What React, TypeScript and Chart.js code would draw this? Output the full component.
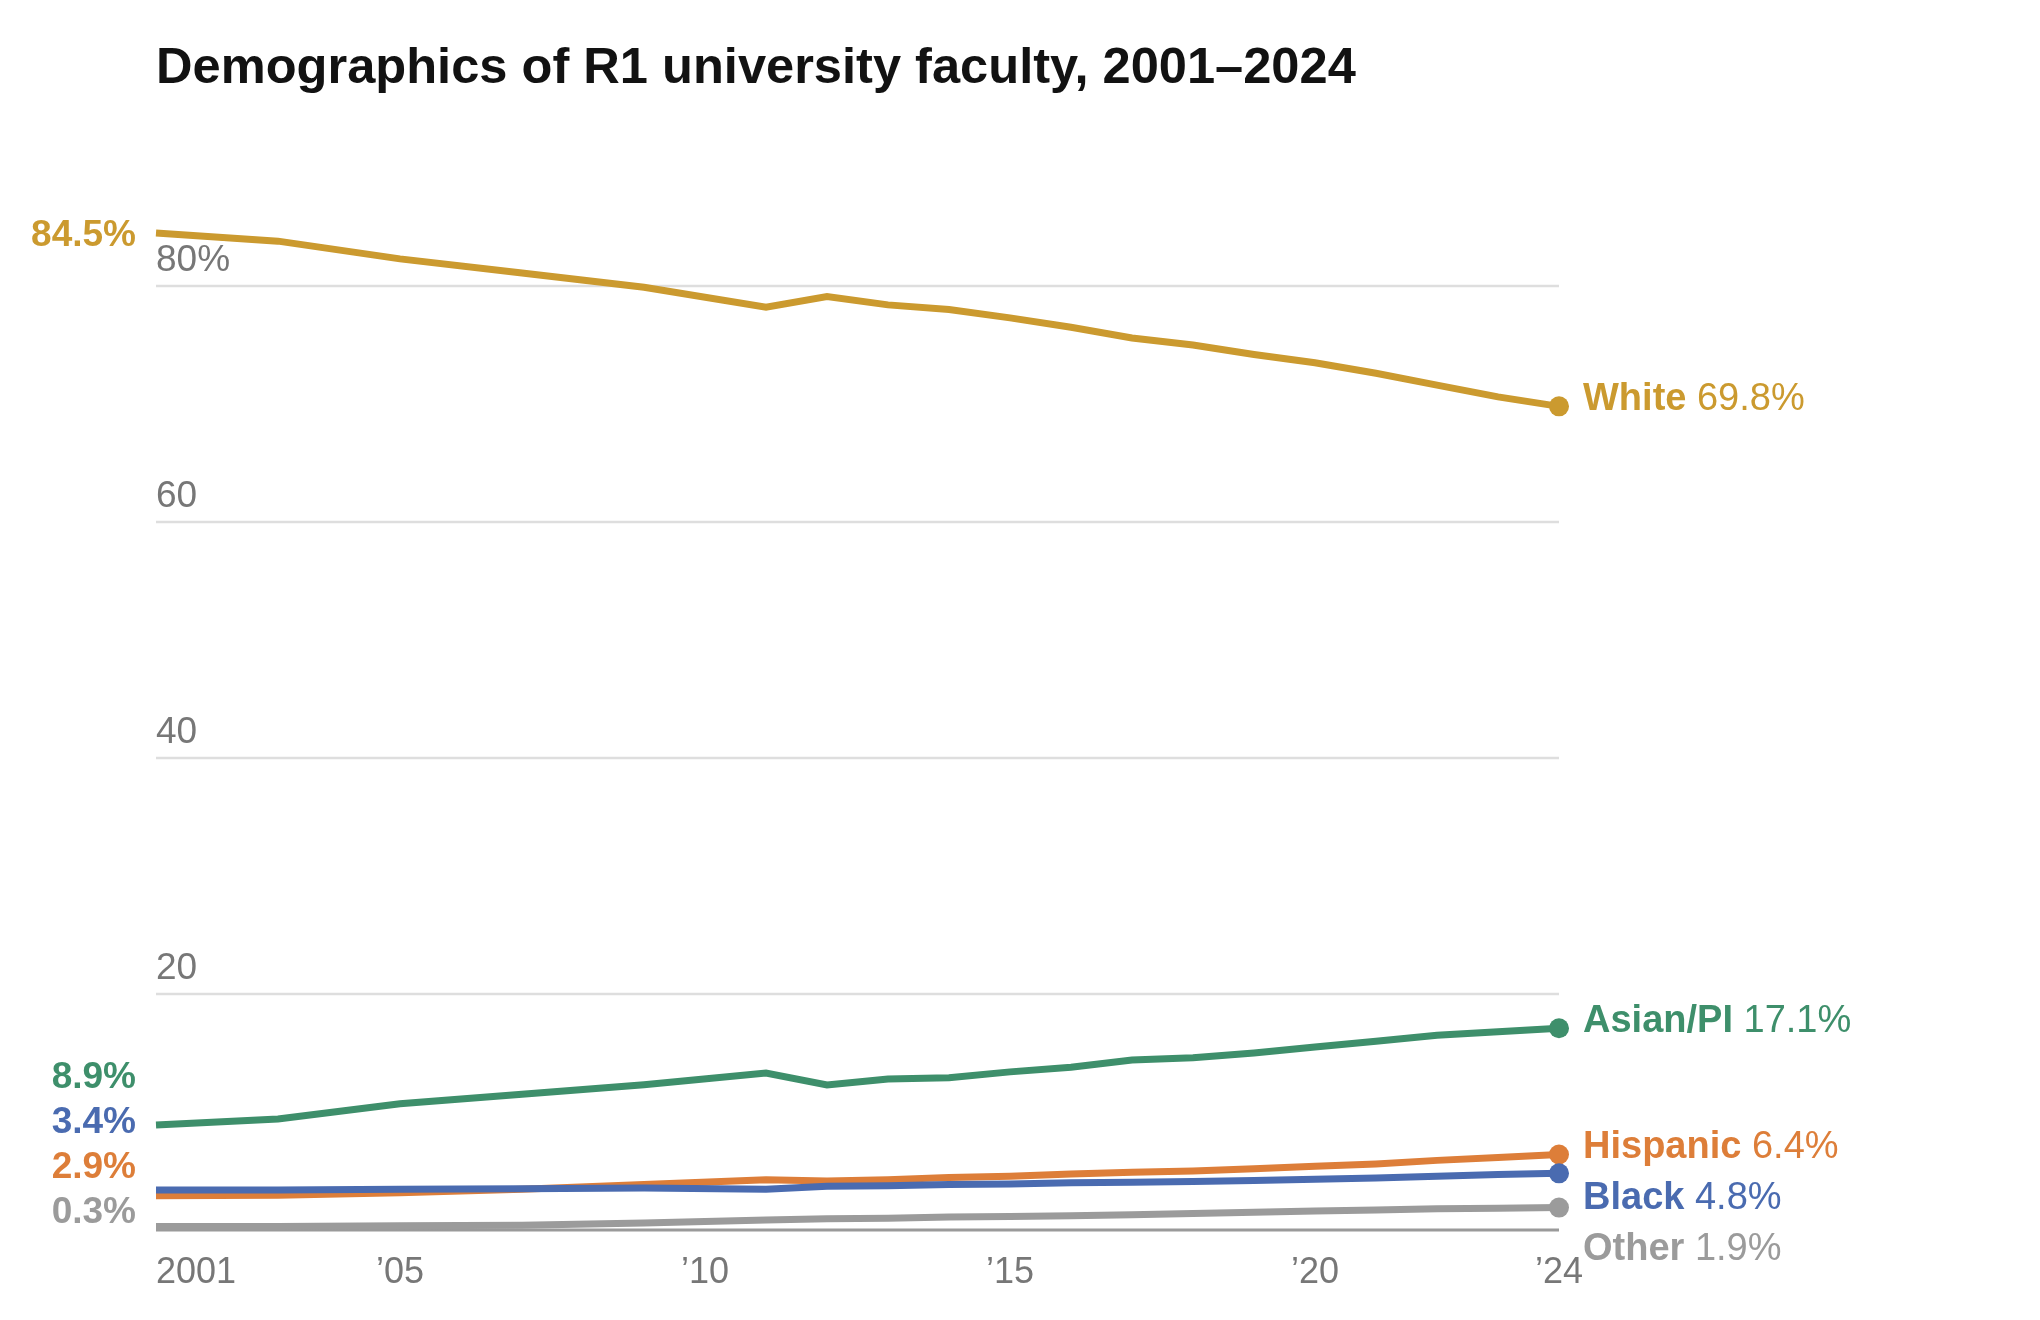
import { useEffect, useRef } from 'react';
import { Chart, registerables } from 'chart.js';

Chart.register(...registerables);

// Survey years (biennial until 2011, then yearly)
const years = [2001, 2003, 2005, 2007, 2009, 2011, 2012, 2013, 2014, 2015, 2016, 2017, 2018, 2019, 2020, 2021, 2022, 2023, 2024];

const whiteShare = [84.5, 83.8, 82.3, 81.1, 79.9, 78.2, 79.1, 78.4, 78.0, 77.3, 76.5, 75.6, 75.0, 74.2, 73.5, 72.6, 71.6, 70.6, 69.8];
const asianShare = [8.9, 9.4, 10.7, 11.5, 12.3, 13.3, 12.3, 12.8, 12.9, 13.4, 13.8, 14.4, 14.6, 15.0, 15.5, 16.0, 16.5, 16.8, 17.1];
const hispanicShare = [2.9, 2.95, 3.15, 3.45, 3.85, 4.25, 4.15, 4.25, 4.45, 4.55, 4.75, 4.9, 5.0, 5.2, 5.4, 5.6, 5.9, 6.15, 6.4];
const blackShare = [3.4, 3.4, 3.45, 3.5, 3.55, 3.45, 3.7, 3.75, 3.85, 3.9, 4.0, 4.05, 4.1, 4.2, 4.3, 4.4, 4.55, 4.7, 4.8];
const otherShare = [0.3, 0.3, 0.35, 0.4, 0.6, 0.85, 0.95, 1.0, 1.1, 1.15, 1.2, 1.3, 1.4, 1.5, 1.6, 1.7, 1.8, 1.85, 1.9];

const seriesNames = ['White', 'Asian/PI', 'Hispanic', 'Black', 'Other'];
const seriesValues = [whiteShare, asianShare, hispanicShare, blackShare, otherShare];
const seriesColors = ['#cb9a2f', '#3e8f6b', '#dd7e39', '#4a6bb0', '#9b9b9b'];
// draw order: lower number is painted on top
const seriesOrder = [2, 3, 1, 0, 4];

const yGridValues = [0, 20, 40, 60, 80];
const yTickLabels = ['', '20', '40', '60', '80%'];
const xTickValues = [2001, 2005, 2010, 2015, 2020, 2024];
const xTickLabels = ['2001', '\u201905', '\u201910', '\u201915', '\u201920', '\u201924'];

const titleText = 'Demographics of R1 university faculty, 2001\u20132024';
const FONT = '"Liberation Sans", Arial, Helvetica, sans-serif';

const annotationPlugin = {
  id: 'annotations',
  beforeDatasetsDraw(chart: any) {
    const { ctx, chartArea, scales } = chart;
    ctx.save();
    yGridValues.forEach((v) => {
      const py = Math.round(scales.y.getPixelForValue(v));
      ctx.beginPath();
      ctx.strokeStyle = v === 0 ? '#9a9a9a' : '#dedede';
      ctx.lineWidth = v === 0 ? 3 : 2.5;
      ctx.moveTo(chartArea.left, py);
      ctx.lineTo(chartArea.right, py);
      ctx.stroke();
    });
    ctx.restore();
  },
  afterDatasetsDraw(chart: any) {
    const { ctx, chartArea, scales } = chart;
    const zeroPx = scales.y.getPixelForValue(0);
    ctx.save();

    // title
    ctx.fillStyle = '#121212';
    ctx.font = `bold 50.6px ${FONT}`;
    ctx.textAlign = 'left';
    ctx.textBaseline = 'alphabetic';
    ctx.fillText(titleText, chartArea.left, 83);

    // y tick labels, with a white halo over the lines
    ctx.font = `37px ${FONT}`;
    ctx.lineJoin = 'round';
    yGridValues.forEach((v, i) => {
      if (!yTickLabels[i]) return;
      const py = scales.y.getPixelForValue(v) - 15;
      ctx.strokeStyle = '#ffffff';
      ctx.lineWidth = 7;
      ctx.strokeText(yTickLabels[i], chartArea.left, py);
      ctx.fillStyle = '#777777';
      ctx.fillText(yTickLabels[i], chartArea.left, py);
    });

    // x tick labels
    ctx.font = `36px ${FONT}`;
    ctx.fillStyle = '#777777';
    xTickValues.forEach((v, i) => {
      const px = scales.x.getPixelForValue(v);
      ctx.textAlign = i === 0 ? 'left' : 'center';
      ctx.fillText(xTickLabels[i], px, zeroPx + 53);
    });

    // start labels, stacked upward from the bottom
    const startItems = seriesValues
      .map((vals, i) => ({ i, base: scales.y.getPixelForValue(vals[0]) + 13.5 }))
      .sort((a, b) => b.base - a.base);
    let prev = zeroPx - 7 + 45;
    ctx.font = `bold 37px ${FONT}`;
    ctx.textAlign = 'right';
    startItems.forEach((it) => {
      const base = Math.min(it.base, prev - 45);
      prev = base;
      ctx.fillStyle = seriesColors[it.i];
      ctx.fillText(`${seriesValues[it.i][0].toFixed(1)}%`, chartArea.left - 20, base);
    });

    // end labels, pushed downward to avoid overlap
    const last = years.length - 1;
    const endItems = seriesValues
      .map((vals, i) => ({ i, base: scales.y.getPixelForValue(vals[last]) + 4 }))
      .sort((a, b) => a.base - b.base);
    let prevEnd = -Infinity;
    ctx.textAlign = 'left';
    endItems.forEach((it) => {
      const base = Math.max(it.base, prevEnd + 51);
      prevEnd = base;
      const x0 = chartArea.right + 24;
      ctx.fillStyle = seriesColors[it.i];
      ctx.font = `bold 38px ${FONT}`;
      ctx.fillText(seriesNames[it.i], x0, base);
      const w = ctx.measureText(seriesNames[it.i] + ' ').width;
      ctx.font = `38px ${FONT}`;
      ctx.fillText(`${seriesValues[it.i][last].toFixed(1)}%`, x0 + w, base);
    });

    ctx.restore();
  },
};

export default function App() {
  const canvasRef = useRef<HTMLCanvasElement | null>(null);

  useEffect(() => {
    document.body.style.margin = '0';
    if (!canvasRef.current) return;

    const chart = new Chart(canvasRef.current, {
      type: 'line',
      data: {
        datasets: seriesValues.map((vals, i) => ({
          label: seriesNames[i],
          data: years.map((yr, j) => ({ x: yr, y: vals[j] })),
          borderColor: seriesColors[i],
          backgroundColor: seriesColors[i],
          borderWidth: 7,
          pointRadius: years.map((_, j) => (j === years.length - 1 ? 10 : 0)),
          pointBorderWidth: 0,
          pointBackgroundColor: seriesColors[i],
          tension: 0,
          clip: false as any,
          order: seriesOrder[i],
        })),
      },
      options: {
        responsive: false,
        animation: false,
        events: [],
        layout: { padding: { left: 156, right: 481, top: 286, bottom: 90 } },
        scales: {
          x: { type: 'linear', min: 2001, max: 2024, display: false },
          y: { min: 0, max: 80, display: false },
        },
        plugins: {
          legend: { display: false },
          tooltip: { enabled: false },
          title: { display: false },
        },
      },
      plugins: [annotationPlugin],
    });

    return () => {
      chart.destroy();
    };
  }, []);

  return (
    <div style={{ width: 2040, height: 1320, background: '#fff' }}>
      <canvas ref={canvasRef} width={2040} height={1320} style={{ width: 2040, height: 1320 }} />
    </div>
  );
}
